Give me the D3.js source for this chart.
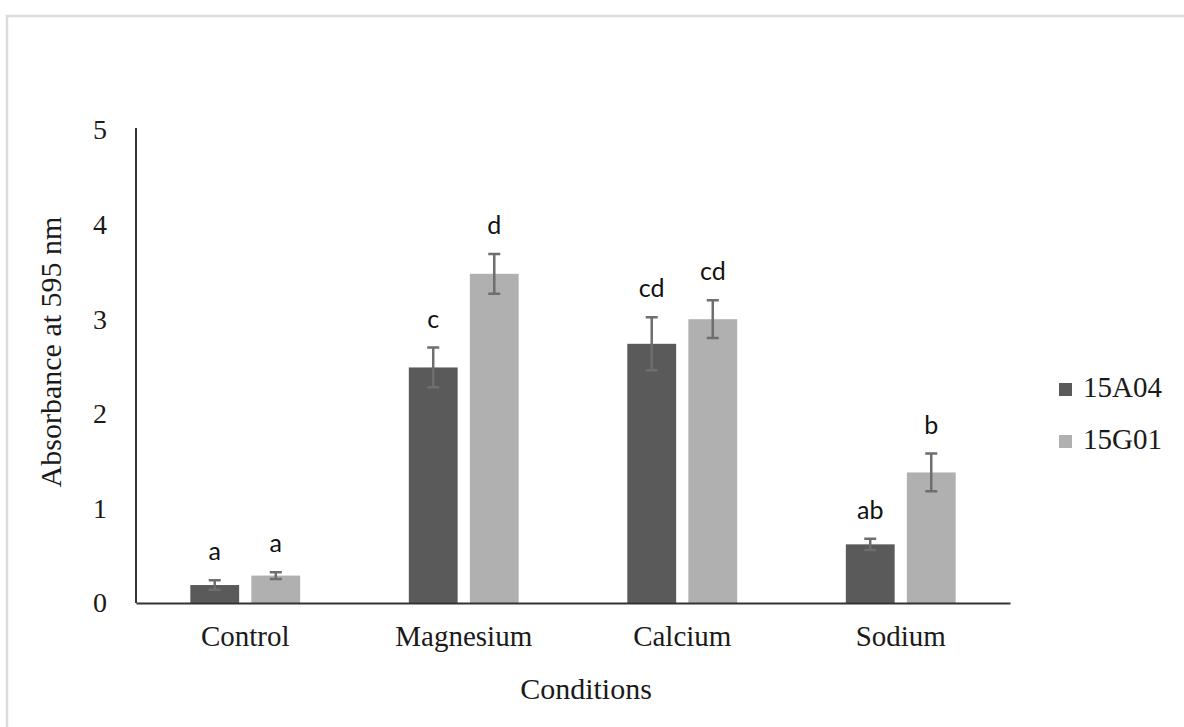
<!DOCTYPE html>
<html lang="en">
  <head>
    <meta charset="UTF-8" />
    <title>Absorbance at 595 nm by condition</title>
    <script src="https://cdn.jsdelivr.net/npm/d3@7"></script>
    <style>
      body { margin: 0; background: #fff; }
    </style>
  </head>
  <body>
    <div id="chart"></div>
    <script>
      // values
      var conditions = ["Control", "Magnesium", "Calcium", "Sodium"];
      var strains = ["15A04", "15G01"];
      var absorbance15A04 = [0.19, 2.49, 2.74, 0.62];
      var absorbance15G01 = [0.29, 3.48, 3.0, 1.38];
      var error15A04 = [0.05, 0.21, 0.28, 0.06];
      var error15G01 = [0.035, 0.21, 0.2, 0.2];
      var letters15A04 = ["a", "c", "cd", "ab"];
      var letters15G01 = ["a", "d", "cd", "b"];
      var yTicks = [0, 1, 2, 3, 4, 5];

      var colors = { "15A04": "#5a5a5a", "15G01": "#b0b0b0" };
      var SERIF = '"Liberation Serif", "Times New Roman", serif';
      var SANS = 'Lato, "Open Sans", sans-serif';

      var rows = [];
      conditions.forEach(function (c, i) {
        rows.push({ condition: c, strain: "15A04", value: absorbance15A04[i], err: error15A04[i], letter: letters15A04[i] });
        rows.push({ condition: c, strain: "15G01", value: absorbance15G01[i], err: error15G01[i], letter: letters15G01[i] });
      });

      var width = 1184, height = 727;
      var svg = d3.select("#chart").append("svg")
        .attr("width", width)
        .attr("height", height);

      // light frame
      svg.append("path")
        .attr("d", "M7,727V16H1184")
        .attr("fill", "none")
        .attr("stroke", "#dcdcdc")
        .attr("stroke-width", 2.5);

      var x0 = d3.scaleBand().domain(conditions).range([136, 1010]);
      var x1 = d3.scaleBand().domain(strains)
        .range([0, x0.bandwidth()])
        .paddingInner(0.2)
        .paddingOuter(0.89);
      var y = d3.scaleLinear().domain([0, 5]).range([603, 130]);

      // bars
      svg.append("g").selectAll("rect")
        .data(rows)
        .join("rect")
        .attr("x", function (d) { return x0(d.condition) + x1(d.strain); })
        .attr("y", function (d) { return y(d.value); })
        .attr("width", x1.bandwidth())
        .attr("height", function (d) { return y(0) - y(d.value); })
        .attr("fill", function (d) { return colors[d.strain]; });

      // error bars
      var cx = function (d) { return x0(d.condition) + x1(d.strain) + x1.bandwidth() / 2; };
      svg.append("g")
        .attr("stroke", "#6e6e6e")
        .attr("stroke-width", 2.5)
        .attr("fill", "none")
        .selectAll("path")
        .data(rows)
        .join("path")
        .attr("d", function (d) {
          var c = cx(d), t = y(d.value + d.err), b = y(d.value - d.err);
          return "M" + (c - 6) + "," + t + "H" + (c + 6) +
            "M" + c + "," + t + "V" + b +
            "M" + (c - 6) + "," + b + "H" + (c + 6);
        });

      // significance letters
      svg.append("g").selectAll("text")
        .data(rows)
        .join("text")
        .attr("x", cx)
        .attr("y", function (d) { return y(d.value + d.err) - 20; })
        .attr("text-anchor", "middle")
        .attr("fill", "#111")
        .style("font-family", SANS)
        .style("font-size", "25px")
        .text(function (d) { return d.letter; });

      // axes
      var yAxis = svg.append("g")
        .attr("transform", "translate(136,0)")
        .call(d3.axisLeft(y).tickValues(yTicks).tickFormat(d3.format("d"))
          .tickSize(0).tickSizeOuter(0).tickPadding(29));
      var xAxis = svg.append("g")
        .attr("transform", "translate(0,603)")
        .call(d3.axisBottom(x0).tickSize(0).tickSizeOuter(0).tickPadding(22));

      [yAxis, xAxis].forEach(function (ax) {
        ax.select(".domain").attr("stroke", "#333").attr("stroke-width", 2);
        ax.selectAll("text")
          .attr("fill", "#1a1a1a")
          .style("font-family", SERIF)
          .style("font-size", "28px");
      });
      yAxis.select(".domain").attr("d", "M0,603V128");
      xAxis.selectAll("text").style("font-size", "29px");

      // axis titles
      svg.append("text")
        .attr("transform", "translate(61,352) rotate(-90)")
        .attr("text-anchor", "middle")
        .attr("fill", "#1a1a1a")
        .style("font-family", SERIF)
        .style("font-size", "30px")
        .text("Absorbance at 595 nm");

      svg.append("text")
        .attr("x", 586)
        .attr("y", 699)
        .attr("text-anchor", "middle")
        .attr("fill", "#1a1a1a")
        .style("font-family", SERIF)
        .style("font-size", "30px")
        .text("Conditions");

      // legend
      var legend = svg.append("g").selectAll("g")
        .data(strains)
        .join("g")
        .attr("transform", function (d, i) { return "translate(1059," + (383 + i * 52) + ")"; });
      legend.append("rect")
        .attr("width", 13)
        .attr("height", 13)
        .attr("fill", function (d) { return colors[d]; });
      legend.append("text")
        .attr("x", 24)
        .attr("y", 14)
        .attr("fill", "#1a1a1a")
        .style("font-family", SERIF)
        .style("font-size", "29px")
        .text(function (d) { return d; });
    </script>
  </body>
</html>
